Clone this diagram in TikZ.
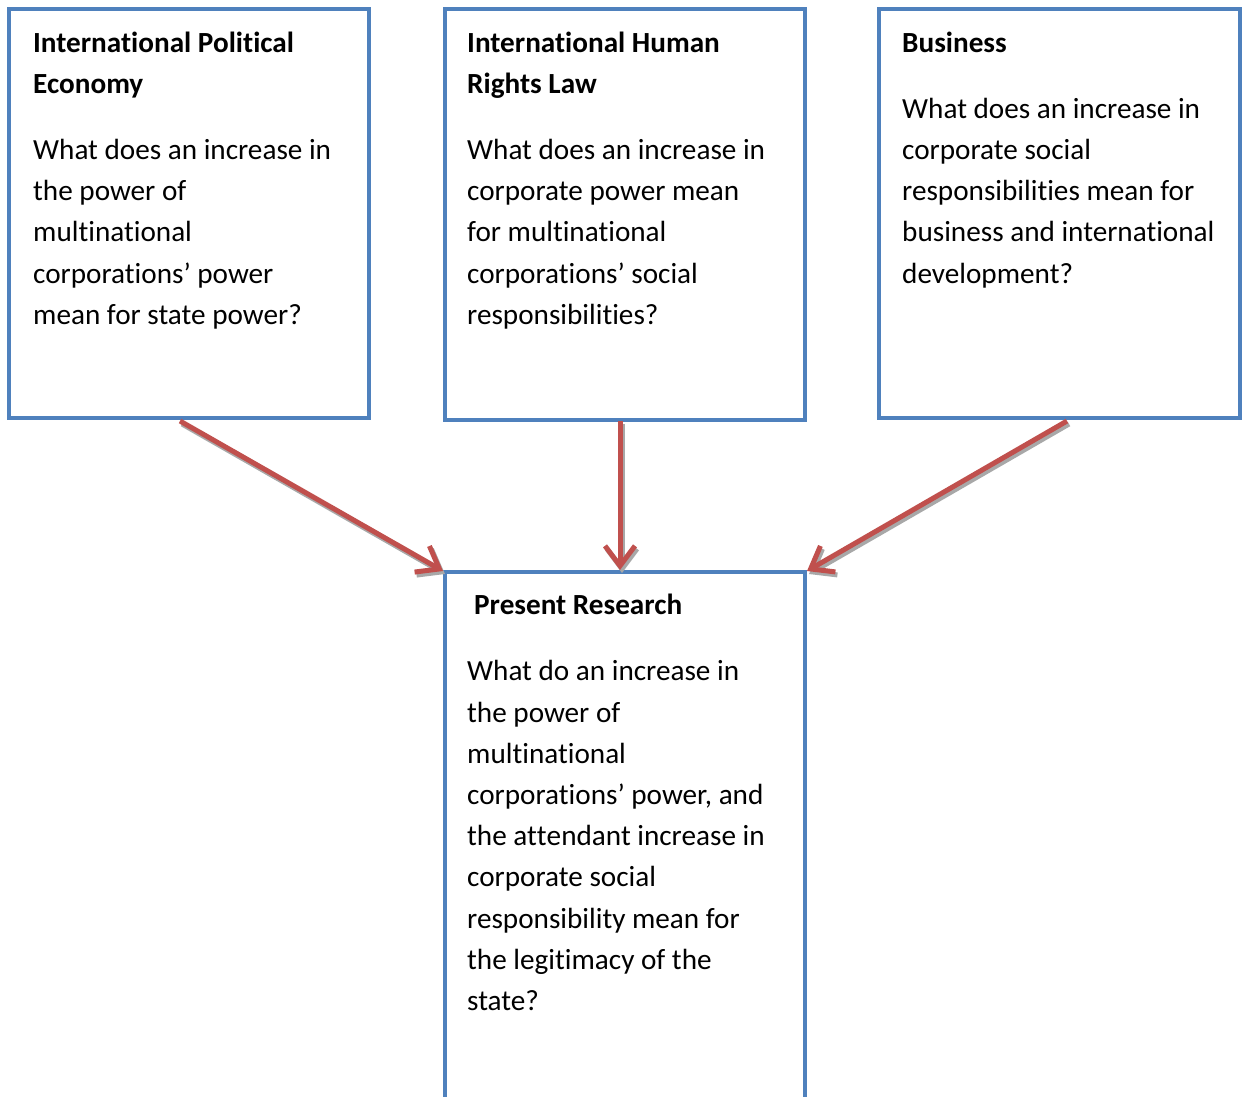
\documentclass[tikz,border=0pt]{standalone}
\usepackage{fontspec}
\setmainfont{Carlito}[Ligatures={NoCommon,NoContextual,NoRequired},Contextuals=NoAlternate]
\usetikzlibrary{arrows.meta}
\definecolor{boxblue}{HTML}{4F81BD}
\definecolor{arrred}{HTML}{C0504D}
\definecolor{shadowgray}{HTML}{A8A8A8}
\begin{document}
\begin{tikzpicture}[x=1pt,y=-1pt,
 box/.style={draw=boxblue,line width=4.4pt,anchor=north west,inner sep=0pt,outer sep=0pt},
 txt/.style={anchor=base west,inner sep=0pt,font=\fontsize{29.2}{41.3}\selectfont},
 ttl/.style={anchor=base west,inner sep=0pt,font=\fontsize{29.2}{41.3}\selectfont\bfseries},
 arrtip/.style={-{Straight Barb[length=20pt,width=30pt]}},
 arr/.style={arrtip,draw=arrred,line width=5pt},
 shd/.style={arrtip,draw=shadowgray,line width=5pt,transform canvas={xshift=2pt,yshift=-3pt}}]
\useasboundingbox (0,0) rectangle (1243,1096);
\clip (0,0) rectangle (1243,1096);
\fill[white] (0,0) rectangle (1243,1096);
% boxes
\node[box,minimum width=360pt,minimum height=409pt] (b1) at (9,9) {};
\node[box,minimum width=360pt,minimum height=411pt] (b2) at (445,9) {};
\node[box,minimum width=361pt,minimum height=409pt] (b3) at (879,9) {};
\node[box,minimum width=360pt,minimum height=560pt] (b4) at (445,572) {};
% box 1 text
\node[ttl] (t1a) at (33,52) {Internat\kern0pt ional Political};
\node[ttl] (t1b) at (33,93) {Economy};
\node[txt] (t1c) at (33,159) {What does an increase in};
\node[txt] (t1d) at (33,200) {the power of};
\node[txt] (t1e) at (33,241) {multinat\kern0pt ional};
\node[txt] (t1f) at (33,283) {corporat\kern0pt ions’ power};
\node[txt] (t1g) at (33,324) {mean for state power?};
% box 2 text
\node[ttl] (t2a) at (467,52) {Internat\kern0pt ional Human};
\node[ttl] (t2b) at (467,93) {Rights Law};
\node[txt] (t2c) at (467,159) {What does an increase in};
\node[txt] (t2d) at (467,200) {corporate power mean};
\node[txt] (t2e) at (467,241) {for multinat\kern0pt ional};
\node[txt] (t2f) at (467,283) {corporat\kern0pt ions’ social};
\node[txt] (t2g) at (467,324) {responsibilit\kern0pt ies?};
% box 3 text
\node[ttl] (t3a) at (902,52) {Business};
\node[txt] (t3b) at (902,118) {What does an increase in};
\node[txt] (t3c) at (902,159) {corporate social};
\node[txt] (t3d) at (902,200) {responsibilit\kern0pt ies mean for};
\node[txt] (t3e) at (902,241) {business and internat\kern0pt ional};
\node[txt] (t3f) at (902,283) {development?};
% box 4 text
\node[ttl] (t4a) at (474,614) {Present Research};
\node[txt] (t4b) at (467,680) {What do an increase in};
\node[txt] (t4c) at (467,722) {the power of};
\node[txt] (t4d) at (467,763) {multinat\kern0pt ional};
\node[txt] (t4e) at (467,804) {corporat\kern0pt ions’ power, and};
\node[txt] (t4f) at (467,845) {the at\kern0pt t\kern0pt endant increase in};
\node[txt] (t4g) at (467,886) {corporate social};
\node[txt] (t4h) at (467,928) {responsibility mean for};
\node[txt] (t4i) at (467,969) {the legitimacy of the};
\node[txt] (t4j) at (467,1010) {state?};
% arrow anchors
\coordinate (a1s) at (180,421);
\coordinate (a2s) at (620,421);
\coordinate (a3s) at (1067,421);
\coordinate (a1e) at (443,571);
\coordinate (a2e) at (620,570);
\coordinate (a3e) at (807,571);
% shadows
\draw[shd] (a1s) -- (a1e);
\draw[shd] (a2s) -- (a2e);
\draw[shd] (a3s) -- (a3e);
% arrows
\draw[arr] (a1s) -- (a1e);
\draw[arr] (a2s) -- (a2e);
\draw[arr] (a3s) -- (a3e);
\end{tikzpicture}
\end{document}
